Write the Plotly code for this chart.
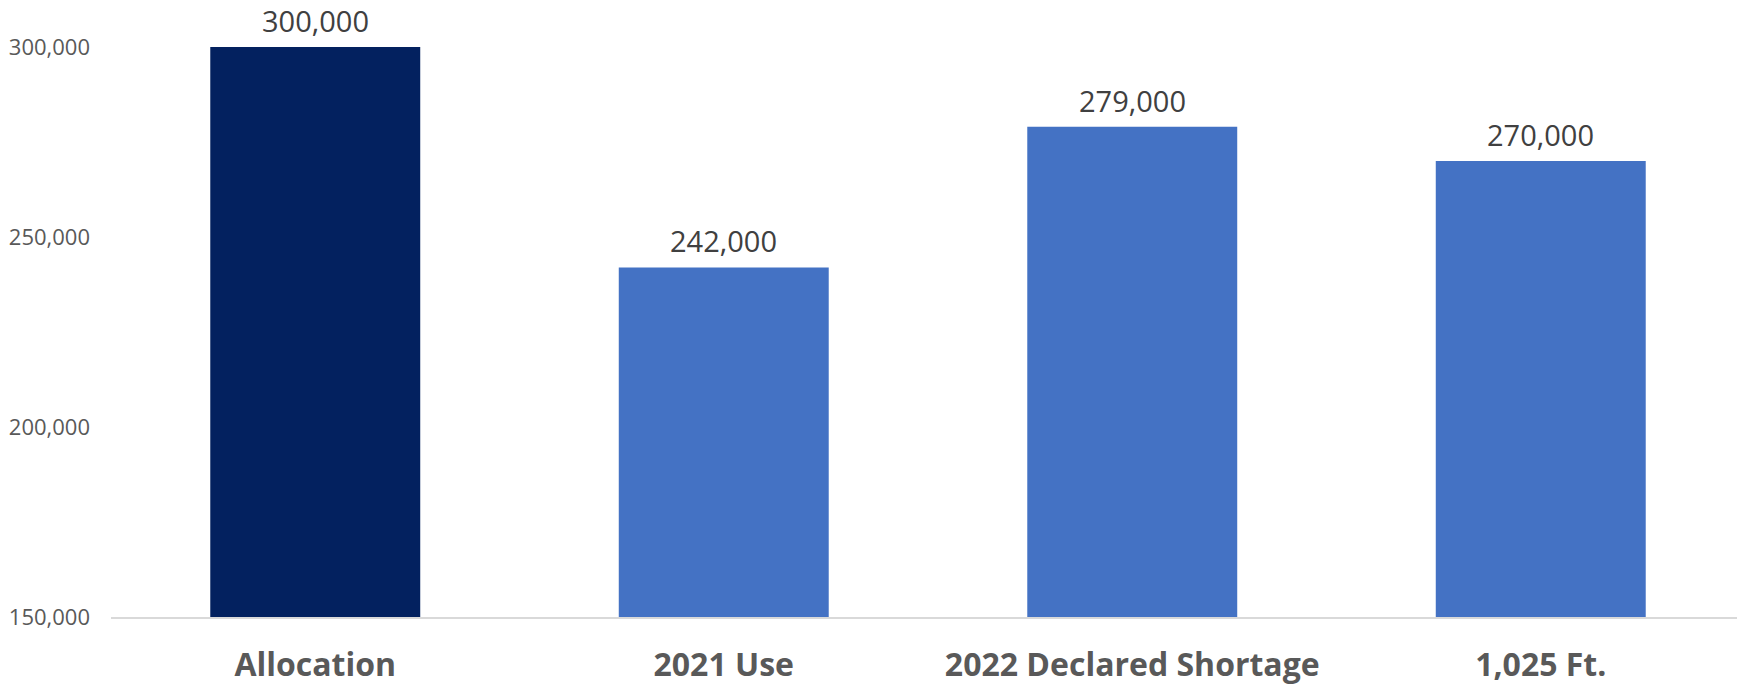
import plotly.graph_objects as go

categories = ["Allocation", "2021 Use", "2022 Declared Shortage", "1,025 Ft."]
values = [300000, 242000, 279000, 270000]
bar_colors = ["#03215F", "#4472C4", "#4472C4", "#4472C4"]
y_ticks = [150000, 200000, 250000, 300000]
y_tick_labels = ["150,000", "200,000", "250,000", "300,000"]

fig = go.Figure()
fig.add_trace(go.Bar(
    x=categories, y=values, marker=dict(color=bar_colors, line=dict(width=0)),
    hoverinfo="x+y",
))

for c, v in zip(categories, values):
    fig.add_annotation(x=c, y=v, text=f"{v:,}", showarrow=False,
                       yanchor="bottom", yshift=5,
                       font=dict(family="Open Sans", size=29, color="#404040"))

fig.update_layout(
    width=1737, height=682,
    margin=dict(l=103, r=0, t=39, b=73),
    paper_bgcolor="white", plot_bgcolor="white",
    bargap=0.486, showlegend=False,
    font=dict(family="Open Sans"),
)
fig.update_xaxes(
    showline=True, linecolor="#D9D9D9", linewidth=2,
    ticks="", showgrid=False,
    tickfont=dict(family="Open Sans", size=32, color="#595959", weight="bold"),
    ticklabelstandoff=19,
)
fig.update_yaxes(
    range=[150000, 300000], tickvals=y_ticks, ticktext=y_tick_labels,
    showgrid=False, zeroline=False, showline=False, ticks="",
    tickfont=dict(family="Open Sans", size=22, color="#595959"),
    ticklabelstandoff=20,
)

fig.write_html("out.html")
